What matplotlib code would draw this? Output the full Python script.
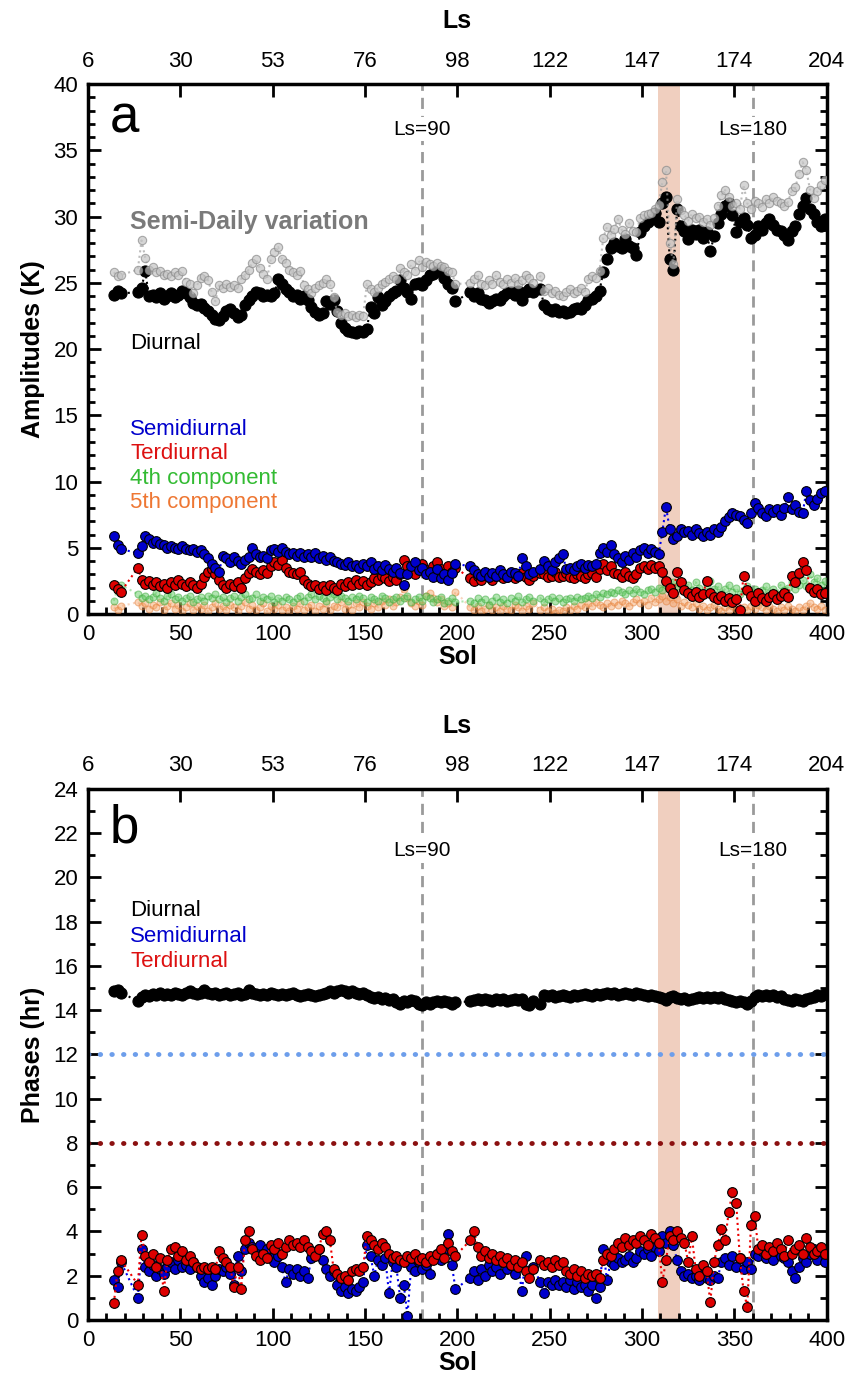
import numpy as np
import matplotlib.pyplot as plt
from matplotlib.ticker import MultipleLocator

plt.rcParams['font.family'] = ['Liberation Sans', 'DejaVu Sans']

# sol numbers of the samples
sol = [14, 16, 18,
       27, 29, 31, 33, 35, 37, 39, 41, 43, 45,
       47, 49, 51, 53, 55, 57, 59, 61, 63, 65,
       67, 69, 71, 73, 75, 77, 79, 81, 83, 85,
       87, 89, 91, 93, 95, 97, 99, 101, 103, 105,
       107, 109, 111, 113, 115, 117, 119, 121, 123, 125,
       127, 129, 131, 133, 135, 137, 139, 141, 143, 145,
       147, 149, 151, 153, 155, 157, 159, 161, 163, 165,
       167, 169, 171, 173, 175, 177, 179, 181, 183, 185,
       187, 189, 191, 193, 195, 197, 199,
       207, 209, 211, 213, 215, 217, 219, 221, 223, 225,
       227, 229, 231, 233, 235, 237, 239, 241,
       245, 247, 249, 251, 253, 255, 257, 259, 261, 263,
       265, 267, 269, 271, 273, 275, 277, 279, 281, 283,
       285, 287, 289, 291, 293, 295, 297, 299, 301, 303,
       305, 307, 309, 311, 313, 315, 317, 319, 321, 323,
       325, 327, 329, 331, 333, 335, 337, 339, 341, 343,
       345, 347, 349, 351, 353, 355, 357, 359, 361, 363,
       365, 367, 369, 371, 373, 375, 377, 379, 381, 383,
       385, 387, 389, 391, 393, 395, 397, 399]

# top axis (solar longitude) labels at sol 0, 50, ... 400
ls_labels = ['6', '30', '53', '76', '98', '122', '147', '174', '204']

# ---- amplitudes (K) ----
amp_semidaily = [25.8, 25.5, 25.6,
    26.0, 28.2, 26.9, 26.0, 26.2, 25.8, 25.9, 25.6, 25.7, 25.5,
    25.8, 25.6, 25.9, 25.1, 24.9, 24.2, 24.8, 25.4, 25.5, 25.2,
    24.3, 23.6, 24.8, 24.6, 24.9, 24.7, 24.8, 24.6, 25.3, 25.6,
    26.0, 26.5, 26.8, 26.1, 25.7, 25.3, 26.8, 27.3, 27.7, 26.8,
    26.5, 26.0, 25.8, 25.6, 25.9, 24.8, 24.5, 24.2, 24.6, 24.8,
    25.0, 25.3, 24.9, 23.9, 22.8, 22.6, 22.7, 22.5, 22.6, 22.4,
    22.6, 22.5, 24.9, 24.5, 24.3, 24.6, 24.9, 25.1, 25.3, 25.5,
    25.3, 26.1, 25.8, 25.6, 26.4, 25.9, 26.7, 26.2, 26.6, 26.4,
    26.3, 26.5, 26.3, 26.2, 25.9, 25.8, 24.9,
    25.0, 25.3, 25.6, 24.9, 24.8, 25.2, 24.9, 25.6, 25.1, 24.9,
    25.3, 25.0, 25.4, 24.9, 25.2, 25.6, 25.4, 25.0,
    25.5, 24.4, 24.6, 24.2, 24.4, 24.1, 24.0, 24.3, 24.5, 24.2,
    24.4, 24.6, 24.3, 25.3, 25.5, 25.4, 25.9, 28.4, 29.2, 28.6,
    29.1, 29.8, 29.0, 28.7, 29.5, 28.9, 28.8, 29.9, 30.1, 30.2,
    30.3, 30.6, 30.9, 32.6, 33.5, 28.0, 26.4, 31.3, 30.5, 30.1,
    29.7, 30.2, 29.9, 30.0, 29.6, 29.8, 29.4, 29.9, 30.8, 31.6,
    32.0, 31.5, 30.8, 31.0, 30.6, 32.4, 31.0, 30.6, 31.2, 31.0,
    30.7, 31.3, 31.0, 31.5, 31.2, 31.0, 30.8, 31.1, 31.9, 32.2,
    33.2, 34.1, 33.5, 32.0, 31.4, 31.9, 32.4, 32.8]

amp_diurnal = [24.1, 24.4, 24.2,
    24.3, 24.6, 25.9, 24.0, 24.1, 23.9, 24.2, 23.8, 24.0, 24.2,
    23.9, 24.1, 24.4, 24.2, 23.9, 23.5, 23.3, 23.4, 23.1, 22.9,
    22.6, 22.3, 22.2, 22.5, 22.9, 23.0, 22.7, 22.4, 22.6, 23.3,
    23.7, 24.0, 24.3, 24.2, 24.0, 24.1, 24.0, 24.2, 25.3, 24.9,
    24.5, 24.3, 24.0, 24.1, 23.8, 24.0, 23.7, 23.2, 22.8, 22.6,
    22.7, 23.6, 23.4, 23.7, 22.9, 22.0, 21.6, 21.4, 21.3, 21.2,
    21.4, 21.3, 21.5, 23.2, 22.7, 23.9, 23.3, 23.6, 24.0, 24.2,
    24.4, 25.2, 24.6, 24.3, 23.8, 24.9, 25.0, 24.8, 25.2, 25.6,
    25.7, 25.9, 26.0, 25.4, 24.9, 24.6, 23.6,
    24.3, 24.0, 24.2, 23.8, 23.7, 23.5, 23.6, 23.8, 23.7, 24.0,
    24.2, 24.3, 24.1, 24.4, 23.7, 24.3, 24.5, 24.3,
    24.5, 23.3, 23.0, 22.9, 23.0, 22.8, 22.9, 22.7, 22.8, 23.0,
    23.1, 23.0, 23.3, 23.7, 23.8, 24.0, 24.4, 25.8, 26.8, 27.6,
    28.0, 27.8, 27.6, 28.3, 27.8, 27.6, 27.1, 28.8, 29.3, 29.6,
    29.8, 30.3, 29.6, 31.0, 31.5, 26.8, 26.0, 30.6, 29.3, 28.9,
    28.3, 29.0, 28.7, 29.0, 28.4, 28.8, 27.4, 28.5, 29.5, 30.2,
    30.8, 31.0, 30.1, 28.8, 29.6, 29.9, 29.4, 28.4, 28.6, 29.3,
    29.0, 29.5, 29.8, 29.4, 29.0, 28.9, 28.6, 28.2, 28.9, 29.3,
    30.2, 30.8, 31.4, 30.6, 30.2, 29.6, 29.3, 29.8]

amp_semi = [5.9, 5.2, 4.9,
    4.6, 5.1, 5.9, 5.7, 5.4, 5.5, 5.3, 5.2, 5.0, 5.1,
    5.0, 4.9, 5.1, 4.9, 4.8, 4.9, 4.7, 4.8, 4.5, 4.2,
    3.8, 3.5, 3.2, 4.4, 4.2, 3.9, 4.3, 4.0, 3.8, 4.1,
    4.3, 5.0, 4.5, 4.3, 4.4, 4.2, 4.8, 4.9, 4.7, 5.0,
    4.7, 4.5, 4.6, 4.4, 4.6, 4.3, 4.5, 4.3, 4.6, 4.2,
    4.4, 4.1, 4.3, 4.0, 3.9, 3.8, 3.7, 3.9, 3.6, 3.7,
    3.5, 3.8, 3.6, 3.9, 3.4, 3.6, 3.3, 3.7, 3.4, 3.2,
    3.5, 3.1, 2.2, 3.0, 3.6, 3.9, 3.3, 3.5, 3.0, 3.2,
    2.8, 3.4, 2.7, 3.0, 2.6, 3.1, 3.8,
    3.6, 3.3, 3.0, 2.9, 3.2, 2.8, 3.1, 2.9, 3.3, 3.0,
    2.8, 3.2, 3.1, 2.9, 4.2, 3.6, 3.0, 3.2,
    3.4, 4.0, 3.6, 3.3, 3.9, 4.2, 4.5, 3.4, 3.5, 3.3,
    3.6, 3.8, 3.5, 3.7, 3.6, 3.8, 4.6, 5.0, 4.7, 5.2,
    4.5, 4.2, 3.9, 4.4, 4.1, 4.6, 4.3, 4.8, 5.0, 4.6,
    4.9, 4.7, 4.5, 6.2, 8.1, 6.4, 5.7, 5.9, 6.4, 6.2,
    6.3, 6.0, 6.4, 6.1, 5.9, 6.2, 6.0, 6.4, 6.2, 6.6,
    7.0, 7.3, 7.6, 7.5, 7.4, 7.1, 6.9, 7.6, 8.4, 8.0,
    7.6, 7.4, 7.9, 7.7, 7.9, 7.5, 8.0, 8.8, 7.9, 8.2,
    7.7, 7.6, 9.3, 8.6, 8.2, 8.7, 9.1, 9.3]

amp_ter = [2.2, 1.9, 1.7,
    3.5, 2.6, 2.3, 2.5, 2.2, 2.4, 2.1, 2.3, 2.0, 2.4,
    2.2, 2.6, 2.3, 2.1, 2.4, 2.2, 2.0, 2.3, 2.8, 3.2,
    3.4, 3.0, 2.6, 2.2, 2.0, 2.3, 2.1, 2.4, 2.0, 2.7,
    3.1, 3.4, 3.2, 3.0, 3.3, 3.1, 3.6, 3.9, 3.7, 4.1,
    3.5, 3.2, 3.1, 3.0, 3.2, 2.6, 2.3, 2.1, 2.2, 1.9,
    2.1, 1.8, 2.2, 2.0, 1.8, 2.3, 2.1, 2.4, 2.2, 2.6,
    2.3, 2.5, 2.2, 2.4, 2.7, 2.6, 2.9, 2.7, 2.5, 2.8,
    2.6, 3.0, 4.1, 3.6, 3.2, 3.0, 3.5, 3.8, 3.3, 3.1,
    3.6, 3.9, 3.4, 3.0, 3.6, 3.2, 3.5,
    2.7, 2.5, 2.9, 2.6, 3.0, 2.8, 2.6, 2.9, 3.1, 2.7,
    2.8, 3.0, 2.7, 2.9, 3.1, 2.8, 2.6, 2.9,
    3.1, 3.0, 2.8, 2.9, 3.2, 2.8, 2.9, 3.1, 2.8, 2.7,
    3.0, 2.9, 2.7, 3.0, 3.1, 2.8, 3.4, 3.8, 3.3, 3.6,
    3.1, 3.0, 2.8, 3.2, 2.9, 2.7, 3.0, 3.5, 3.6, 3.4,
    3.7, 3.5, 3.6, 3.2, 2.5, 2.0, 1.6, 3.2, 2.4, 1.8,
    1.6, 1.4, 1.7, 1.3, 1.5, 2.5, 1.6, 1.3, 1.1, 1.4,
    1.0, 1.2, 0.9, 1.1, 0.3, 2.9, 1.8, 1.4, 1.0, 1.6,
    1.2, 1.0, 1.3, 1.5, 1.1, 1.4, 1.6, 1.3, 2.9, 2.4,
    3.1, 3.9, 3.3, 2.0, 1.7, 1.9, 1.5, 1.6]

amp_4th = [1.0, 1.9, 2.2,
    1.5, 1.2, 1.4, 1.1, 1.3, 1.6, 1.2, 1.0, 1.4, 1.5,
    1.1, 1.3, 1.0, 1.2, 1.4, 0.9, 1.1, 1.3, 1.0, 1.4,
    1.2, 1.5, 1.1, 1.3, 0.9, 1.2, 1.4, 1.0, 1.3, 1.5,
    1.1, 1.2, 1.5, 1.0, 1.3, 1.1, 1.4, 0.9, 1.2, 1.0,
    1.3, 1.1, 0.9, 1.2, 1.4, 1.0, 1.3, 1.5, 1.1, 1.4,
    1.2, 1.0, 1.3, 1.5, 1.1, 1.4, 1.2, 1.0, 1.3, 1.1,
    1.4, 1.2, 0.9, 1.3, 1.1, 1.0, 1.4, 1.2, 0.9, 1.1,
    1.3, 1.0, 1.2, 1.4, 0.9, 1.1, 1.3, 1.0, 1.4, 1.2,
    0.9, 1.1, 1.3, 0.8, 1.0, 1.2, 0.9,
    1.0, 0.8, 1.2, 0.9, 1.1, 0.7, 1.0, 1.3, 0.9, 1.1,
    0.8, 1.2, 1.0, 1.4, 0.9, 1.1, 1.3, 1.0,
    1.2, 0.9, 1.1, 1.3, 1.0, 1.2, 0.9, 1.1, 1.2, 1.0,
    1.3, 1.1, 1.2, 1.4, 1.2, 1.5, 1.3, 1.6, 1.5, 1.7,
    1.6, 1.8, 1.7, 1.5, 1.8, 1.6, 1.9, 1.7, 1.5, 1.8,
    1.9, 1.7, 2.0, 1.8, 2.2, 2.0, 2.4, 2.1, 2.3, 1.9,
    2.2, 1.8, 2.4, 2.0, 1.7, 2.2, 2.5, 1.9, 2.1, 1.6,
    1.9, 2.2, 1.7, 2.0, 1.5, 1.8, 2.1, 1.6, 1.9, 1.4,
    1.8, 2.1, 1.6, 1.9, 1.5, 2.2, 1.8, 2.0, 2.4, 1.9,
    2.2, 2.6, 2.1, 3.0, 2.4, 2.7, 2.2, 2.5]

amp_5th = [0.5, 0.3, 0.6,
    0.9, 0.6, 0.8, 0.4, 0.7, 0.5, 0.9, 0.3, 0.6, 0.8,
    0.4, 0.7, 0.2, 0.5, 0.8, 0.3, 0.6, 0.4, 0.7, 0.2,
    0.5, 0.8, 0.4, 0.6, 0.3, 0.7, 0.5, 0.2, 0.6, 0.9,
    0.4, 0.7, 0.3, 0.5, 0.8, 0.2, 0.6, 0.4, 0.7, 0.3,
    0.5, 0.2, 0.6, 0.4, 0.8, 0.3, 0.5, 0.7, 0.2, 0.6,
    0.4, 0.8, 0.3, 0.6, 0.5, 0.9, 0.4, 0.7, 0.3, 0.8,
    0.5, 0.9, 0.6, 0.4, 0.8, 0.5, 1.0, 0.7, 1.1, 0.6,
    0.9, 1.3, 1.9, 1.2, 0.8, 0.6, 1.0, 0.7, 1.4, 1.6,
    1.2, 0.9, 1.1, 0.6, 0.8, 0.5, 1.7,
    0.5, 0.3, 0.6, 0.2, 0.4, 0.7, 0.3, 0.5, 0.2, 0.6,
    0.4, 0.3, 0.7, 0.5, 0.2, 0.6, 0.4, 0.8,
    0.3, 0.5, 0.2, 0.4, 0.1, 0.3, 0.2, 0.5, 0.3, 0.6,
    0.4, 0.7, 0.5, 0.8, 0.6, 0.9, 0.7, 0.5, 0.8, 0.6,
    0.9, 0.7, 1.0, 0.8, 0.6, 0.9, 1.1, 0.8, 1.0, 0.7,
    1.2, 0.9, 1.1, 1.4, 1.0, 1.3, 0.8, 1.1, 0.6, 0.9,
    0.7, 0.5, 0.8, 0.4, 0.6, 0.3, 0.5, 0.7, 0.4, 0.2,
    0.5, 0.3, 0.6, 0.4, 0.2, 0.5, 0.3, 0.6, 0.4, 0.7,
    0.5, 0.3, 0.6, 0.4, 0.2, 0.5, 0.3, 0.6, 0.4, 0.2,
    0.5, 0.3, 0.6, 0.8, 0.5, 0.4, 0.6, 0.3]

# ---- phases (hr) ----
ph_diurnal = [14.85, 14.9, 14.8,
    14.4, 14.6, 14.7, 14.65, 14.75, 14.7, 14.8, 14.7, 14.75, 14.7,
    14.8, 14.75, 14.7, 14.8, 14.85, 14.8, 14.75, 14.8, 14.9, 14.8,
    14.75, 14.8, 14.7, 14.75, 14.8, 14.7, 14.75, 14.8, 14.7, 14.75,
    14.9, 14.8, 14.75, 14.7, 14.75, 14.7, 14.8, 14.75, 14.7, 14.75,
    14.7, 14.75, 14.8, 14.7, 14.65, 14.7, 14.75, 14.7, 14.65, 14.7,
    14.75, 14.8, 14.85, 14.8, 14.85, 14.9, 14.85, 14.8, 14.85, 14.8,
    14.75, 14.8, 14.7, 14.6, 14.55, 14.6, 14.5, 14.55, 14.45, 14.5,
    14.35, 14.3, 14.4, 14.35, 14.45, 14.4, 14.3, 14.25, 14.35, 14.3,
    14.35, 14.4, 14.35, 14.4, 14.35, 14.3, 14.35,
    14.4, 14.45, 14.5, 14.45, 14.5, 14.45, 14.4, 14.5, 14.45, 14.5,
    14.4, 14.45, 14.5, 14.45, 14.5, 14.3, 14.25, 14.4,
    14.3, 14.7, 14.65, 14.7, 14.6, 14.65, 14.7, 14.65, 14.6, 14.7,
    14.65, 14.7, 14.75, 14.7, 14.65, 14.75, 14.7, 14.75, 14.8, 14.75,
    14.8, 14.7, 14.75, 14.8, 14.75, 14.7, 14.8, 14.75, 14.7, 14.65,
    14.7, 14.65, 14.6, 14.55, 14.45, 14.6, 14.65, 14.55, 14.5, 14.55,
    14.45, 14.5, 14.55, 14.6, 14.55, 14.6, 14.55, 14.6, 14.55, 14.6,
    14.5, 14.45, 14.4, 14.35, 14.4, 14.35, 14.3, 14.4, 14.6, 14.7,
    14.65, 14.7, 14.65, 14.7, 14.6, 14.65, 14.5, 14.45, 14.4, 14.5,
    14.45, 14.4, 14.5, 14.55, 14.6, 14.7, 14.65, 14.75]

ph_semi = [1.8, 1.5, 2.6,
    1.0, 3.2, 2.4, 2.2, 2.5, 2.0, 2.3, 2.1, 2.4, 2.6,
    2.3, 2.7, 2.4, 2.5, 2.3, 2.6, 2.4, 2.0, 1.7, 1.9,
    1.6, 2.0, 2.3, 2.2, 2.4, 2.1, 1.6, 2.9, 2.2, 3.2,
    3.5, 3.3, 3.1, 3.4, 3.0, 3.2, 2.8, 2.6, 2.9, 2.4,
    1.7, 2.3, 2.1, 2.3, 2.0, 2.2, 1.9, 2.8, 3.0, 3.2,
    2.7, 2.3, 2.0, 2.2, 1.6, 1.3, 1.5, 1.2, 1.4, 1.3,
    1.5, 1.7, 3.4, 2.9, 2.0, 2.7, 2.5, 2.8, 1.2, 2.6,
    2.4, 1.0, 1.6, 0.2, 2.4, 2.2, 2.6, 2.3, 2.5, 2.1,
    2.8, 3.0, 2.7, 3.2, 3.9, 2.5, 1.4,
    1.9, 2.2, 1.8, 2.3, 2.0, 2.5, 2.2, 2.4, 2.1, 2.6,
    2.3, 2.5, 2.1, 2.4, 1.3, 2.9, 2.2, 2.4,
    1.7, 1.2, 1.7, 1.6, 1.8, 1.6, 1.7, 1.5, 1.8, 1.4,
    1.7, 1.5, 1.6, 1.3, 1.6, 1.0, 1.5, 3.2, 1.8, 2.6,
    2.5, 2.8, 2.6, 2.7, 2.9, 2.6, 2.8, 3.1, 3.0, 3.2,
    2.9, 3.3, 3.1, 3.8, 3.5, 4.0, 3.4, 2.7, 2.2, 2.0,
    2.1, 1.9, 2.0, 1.8, 2.1, 1.9, 1.8, 2.0, 1.9, 2.6,
    2.8, 2.5, 2.9, 2.4, 2.8, 2.3, 2.6, 2.3, 3.0, 2.9,
    3.1, 2.8, 3.0, 2.7, 3.1, 2.9, 2.8, 2.6, 2.2, 1.9,
    2.4, 2.8, 2.6, 3.0, 3.2, 2.7, 3.1, 2.6]

ph_ter = [0.75, 2.2, 2.7,
    1.6, 3.85, 2.9, 2.6, 3.0, 2.4, 2.8, 1.3, 2.7, 3.2,
    3.3, 2.9, 3.1, 2.7, 2.9, 2.6, 2.4, 2.3, 2.4, 2.3,
    2.4, 2.3, 3.1, 2.8, 2.6, 2.4, 1.5, 2.4, 1.4, 3.6,
    4.0, 3.2, 2.9, 2.7, 3.0, 2.8, 3.4, 3.2, 3.5, 3.0,
    3.3, 3.6, 3.4, 3.5, 3.3, 3.6, 3.3, 3.1, 2.9, 3.2,
    3.9, 4.0, 3.6, 2.3, 2.1, 1.9, 2.0, 1.8, 2.2, 2.3,
    2.2, 2.4, 3.8, 3.6, 3.4, 3.2, 3.5, 3.3, 3.0, 2.8,
    2.9, 2.7, 2.6, 2.9, 2.8, 3.0, 2.7, 2.8, 2.6, 2.9,
    2.7, 3.0, 3.2, 2.8, 3.5, 3.1, 2.9,
    3.6, 4.0, 3.3, 2.9, 3.1, 2.8, 3.0, 2.7, 2.9, 2.6,
    2.8, 2.5, 2.7, 2.4, 2.6, 2.2, 1.9, 2.3,
    2.7, 2.5, 2.6, 2.4, 2.7, 2.5, 2.6, 2.2, 2.1, 2.3,
    2.0, 2.2, 1.9, 2.1, 2.0, 2.1, 1.9, 2.7, 3.0, 2.9,
    3.2, 3.5, 3.3, 3.7, 3.4, 3.6, 3.5, 3.8, 3.6, 3.4,
    3.9, 3.7, 3.5, 1.7, 2.7, 3.8, 3.6, 4.0, 3.7, 3.5,
    2.6, 3.8, 2.3, 2.0, 2.5, 2.2, 0.8, 2.6, 3.4, 4.1,
    3.6, 4.9, 5.8, 5.3, 2.8, 1.3, 0.6, 4.3, 4.7, 3.2,
    3.4, 3.0, 3.3, 3.1, 3.5, 3.2, 2.9, 3.6, 3.0, 3.2,
    3.4, 3.0, 3.7, 3.3, 3.0, 3.1, 3.3, 3.0]

LS90, LS180 = 181, 360          # sols of Ls=90 and Ls=180
dust = (308.5, 320.5)            # shaded sol interval


def frame(ax, ymax, ymaj, ymin):
    ax.set_xlim(0, 400)
    ax.set_ylim(0, ymax)
    ax.xaxis.set_major_locator(MultipleLocator(50))
    ax.xaxis.set_minor_locator(MultipleLocator(10))
    ax.yaxis.set_major_locator(MultipleLocator(ymaj))
    ax.yaxis.set_minor_locator(MultipleLocator(ymin))
    ax.tick_params(which='both', direction='in', right=True, top=False, width=2)
    ax.tick_params(which='major', length=9, labelsize=16, pad=7)
    ax.tick_params(which='minor', length=5)
    for s in ax.spines.values():
        s.set_linewidth(2.5)
    ax.axvspan(dust[0], dust[1], color='#f0cfbf', lw=0, zorder=0)
    for xv in (LS90, LS180):
        ax.axvline(xv, color='#9a9a9a', lw=2, dashes=(4, 2.5), zorder=1)
    ax.set_xlabel('Sol', fontsize=18, fontweight='bold', labelpad=0)
    top = ax.twiny()
    top.set_xlim(0, 400)
    top.set_xticks(np.arange(0, 401, 50))
    top.set_xticklabels(ls_labels)
    top.tick_params(direction='in', length=9, width=2, labelsize=16, pad=9)
    top.set_xlabel('Ls', fontsize=18, fontweight='bold', labelpad=16)


def series(ax, y, face, edge, lc, ms, alpha=1.0, z=3):
    ax.plot(sol, y, ls=':', lw=1.5, color=lc, marker='o', ms=ms, mfc=face,
            mec=edge, mew=0.8, alpha=alpha, zorder=z)


fig = plt.figure(figsize=(8.54, 13.88), dpi=100)
ax1 = fig.add_axes([0.103, 0.5576, 0.865, 0.3818])
ax2 = fig.add_axes([0.103, 0.049, 0.865, 0.3826])

# panel a
frame(ax1, 40, 5, 1)
ax1.set_ylabel('Amplitudes (K)', fontsize=18, fontweight='bold', labelpad=6)
series(ax1, amp_5th, '#f5a060', '#e07830', '#f0a070', 5, alpha=0.45)
series(ax1, amp_4th, '#66cc66', '#3aa83a', '#66cc66', 5, alpha=0.5)
series(ax1, amp_ter, '#dd0000', 'black', '#ee0000', 7)
series(ax1, amp_semi, '#0000cc', 'black', '#0000ee', 7)
series(ax1, amp_diurnal, 'black', 'black', 'black', 8)
series(ax1, amp_semidaily, '#c4c4c4', '#8a8a8a', '#a0a0a0', 6, alpha=0.7, z=4)

ax1.text(12, 37.4, 'a', fontsize=38, va='center', ha='left')
for xv, t in ((LS90, 'Ls=90'), (LS180, 'Ls=180')):
    ax1.text(xv, 36.6, t, fontsize=15, ha='center', va='center', zorder=2,
             bbox=dict(facecolor='white', edgecolor='none', pad=2))
ax1.text(23, 29.6, 'Semi-Daily variation', fontsize=18, fontweight='bold',
         color='#7a7a7a', va='center')
ax1.text(23, 20.4, 'Diurnal', fontsize=16, color='black', va='center')
ax1.text(23, 13.9, 'Semidiurnal', fontsize=16, color='#0000cc', va='center')
ax1.text(23, 12.1, 'Terdiurnal', fontsize=16, color='#dd1111', va='center')
ax1.text(23, 10.2, '4th component', fontsize=16, color='#33bb33', va='center')
ax1.text(23, 8.4, '5th component', fontsize=16, color='#ee7733', va='center')

# panel b
frame(ax2, 24, 2, 1)
ax2.set_ylabel('Phases (hr)', fontsize=18, fontweight='bold', labelpad=6)
ax2.axhline(12, color='#6d9eeb', lw=3.5, ls=(0, (0.1, 2.3)),
            dash_capstyle='round', zorder=2)
ax2.axhline(8, color='#8b1010', lw=3.5, ls=(0, (0.1, 2.3)),
            dash_capstyle='round', zorder=2)
series(ax2, ph_semi, '#0000cc', 'black', '#0000ee', 7)
series(ax2, ph_ter, '#dd0000', 'black', '#ee0000', 7)
series(ax2, ph_diurnal, 'black', 'black', 'black', 8)

ax2.text(12, 22.2, 'b', fontsize=38, va='center', ha='left')
for xv, t in ((LS90, 'Ls=90'), (LS180, 'Ls=180')):
    ax2.text(xv, 21.2, t, fontsize=15, ha='center', va='center', zorder=2,
             bbox=dict(facecolor='white', edgecolor='none', pad=2))
ax2.text(23, 18.5, 'Diurnal', fontsize=16, color='black', va='center')
ax2.text(23, 17.35, 'Semidiurnal', fontsize=16, color='#0000cc', va='center')
ax2.text(23, 16.2, 'Terdiurnal', fontsize=16, color='#dd1111', va='center')

fig.savefig('out.png', dpi=100)
